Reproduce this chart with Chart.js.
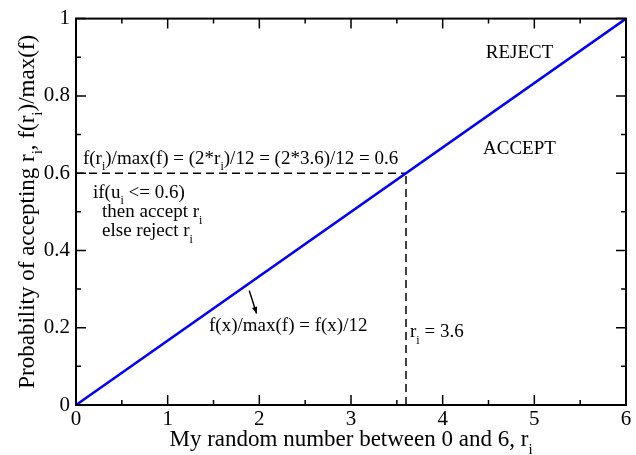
<!DOCTYPE html>
<html>
<head>
<meta charset="utf-8">
<script src="https://cdn.jsdelivr.net/npm/chart.js@4/dist/chart.umd.min.js"></script>
<style>
  html, body { margin: 0; padding: 0; background: #fff; }
  #wrap { width: 636px; height: 455px; }
</style>
</head>
<body>
<div id="wrap"><canvas id="acceptChart"></canvas></div>
<script>
// tick values
const xTicks = [0, 1, 2, 3, 4, 5, 6];
const yTicks = [0, 0.2, 0.4, 0.6, 0.8, 1];
const xMinor = [0.5, 1.5, 2.5, 3.5, 4.5, 5.5];
const yMinor = [0.1, 0.3, 0.5, 0.7, 0.9];

// f(x)/max(f) line
const lineX = [0, 6];
const lineY = [0, 1];

// dashed guide lines for r_i = 3.6
const hDashX = [0, 3.6];
const hDashY = [0.6, 0.6];
const vDashX = [3.6, 3.6];
const vDashY = [0, 0.6];

// little arrow pointing at the line
const arrowX = [1.89, 1.97];
const arrowY = [0.296, 0.237];

// annotations, x/y in data units, _{..} = subscript
const noteText = [
  'f(r_{i})/max(f) = (2*r_{i})/12 = (2*3.6)/12 = 0.6',
  'if(u_{i} <= 0.6)',
  'then accept r_{i}',
  'else reject r_{i}',
  'f(x)/max(f) = f(x)/12',
  'r_{i} = 3.6',
  'REJECT',
  'ACCEPT'
];
const noteX = [0.076, 0.185, 0.284, 0.284, 1.451, 3.644, 4.47, 4.44];
const noteY = [0.625, 0.537, 0.486, 0.437, 0.191, 0.175, 0.899, 0.649];

const xTitle = 'My random number between 0 and 6, r_{i}';
const yTitle = 'Probability of accepting r_{i}, f(r_{i})/max(f)';

const toPts = (xs, ys) => xs.map((x, i) => ({ x: x, y: ys[i] }));

const SERIF = '"Liberation Serif", "DejaVu Serif", serif';

// split "a_{i}b" into pieces
function parseSub(str) {
  const parts = [];
  const re = /_\{([^}]*)\}/g;
  let last = 0, m;
  while ((m = re.exec(str)) !== null) {
    if (m.index > last) parts.push({ t: str.slice(last, m.index), sub: false });
    parts.push({ t: m[1], sub: true });
    last = re.lastIndex;
  }
  if (last < str.length) parts.push({ t: str.slice(last), sub: false });
  return parts;
}

function richWidth(ctx, str, size) {
  let w = 0;
  parseSub(str).forEach(p => {
    ctx.font = (p.sub ? Math.round(size * 0.65) : size) + 'px ' + SERIF;
    w += ctx.measureText(p.t).width;
  });
  return w;
}

function drawRich(ctx, str, x, y, size) {
  let cx = x;
  ctx.textBaseline = 'alphabetic';
  ctx.textAlign = 'left';
  parseSub(str).forEach(p => {
    const s = p.sub ? Math.round(size * 0.65) : size;
    ctx.font = s + 'px ' + SERIF;
    ctx.fillText(p.t, cx, p.sub ? y + size * 0.35 : y);
    cx += ctx.measureText(p.t).width;
  });
}

const framePlugin = {
  id: 'frameAndNotes',
  afterDraw(chart) {
    const ctx = chart.ctx;
    const xs = chart.scales.x, ys = chart.scales.y;
    const a = chart.chartArea;
    ctx.save();
    ctx.strokeStyle = '#000';
    ctx.lineWidth = 1.5;

    // inward ticks on all four sides
    const tick = (vals, len) => {
      vals.forEach(v => {
        const px = xs.getPixelForValue(v);
        ctx.beginPath();
        ctx.moveTo(px, a.bottom); ctx.lineTo(px, a.bottom - len);
        ctx.moveTo(px, a.top); ctx.lineTo(px, a.top + len);
        ctx.stroke();
      });
    };
    const tickY = (vals, len) => {
      vals.forEach(v => {
        const py = ys.getPixelForValue(v);
        ctx.beginPath();
        ctx.moveTo(a.left, py); ctx.lineTo(a.left + len, py);
        ctx.moveTo(a.right, py); ctx.lineTo(a.right - len, py);
        ctx.stroke();
      });
    };
    tick(xTicks, 10); tick(xMinor, 5);
    tickY(yTicks, 10); tickY(yMinor, 5);

    // frame
    ctx.lineWidth = 2;
    ctx.strokeRect(a.left, a.top, a.right - a.left, a.bottom - a.top);

    // arrow
    const x0 = xs.getPixelForValue(arrowX[0]), y0 = ys.getPixelForValue(arrowY[0]);
    const x1 = xs.getPixelForValue(arrowX[1]), y1 = ys.getPixelForValue(arrowY[1]);
    ctx.lineWidth = 1.5;
    ctx.beginPath(); ctx.moveTo(x0, y0); ctx.lineTo(x1, y1); ctx.stroke();
    const ang = Math.atan2(y1 - y0, x1 - x0);
    ctx.fillStyle = '#000';
    ctx.beginPath();
    ctx.moveTo(x1, y1);
    ctx.lineTo(x1 - 7 * Math.cos(ang - 0.4), y1 - 7 * Math.sin(ang - 0.4));
    ctx.lineTo(x1 - 7 * Math.cos(ang + 0.4), y1 - 7 * Math.sin(ang + 0.4));
    ctx.closePath();
    ctx.fill();

    // notes
    noteText.forEach((t, i) => {
      drawRich(ctx, t, xs.getPixelForValue(noteX[i]), ys.getPixelForValue(noteY[i]), 19);
    });

    // axis titles
    const tw = richWidth(ctx, xTitle, 23);
    drawRich(ctx, xTitle, (a.left + a.right) / 2 - tw / 2, 446, 23);

    const yw = richWidth(ctx, yTitle, 23);
    ctx.translate(34, (a.top + a.bottom) / 2);
    ctx.rotate(-Math.PI / 2);
    drawRich(ctx, yTitle, -yw / 2, 0, 23);
    ctx.restore();
  }
};

const ctx = document.getElementById('acceptChart').getContext('2d');
new Chart(ctx, {
  type: 'scatter',
  data: {
    datasets: [
      {
        data: toPts(lineX, lineY),
        showLine: true,
        borderColor: '#0000ff',
        borderWidth: 2.5,
        pointRadius: 0
      },
      {
        data: toPts(hDashX, hDashY),
        showLine: true,
        borderColor: '#000',
        borderWidth: 1.5,
        borderDash: [8, 5],
        pointRadius: 0
      },
      {
        data: toPts(vDashX, vDashY),
        showLine: true,
        borderColor: '#000',
        borderWidth: 1.5,
        borderDash: [8, 5],
        pointRadius: 0
      }
    ]
  },
  options: {
    responsive: true,
    maintainAspectRatio: false,
    animation: false,
    layout: { padding: { left: 0, right: 10, top: 17, bottom: 0 } },
    plugins: {
      legend: { display: false },
      tooltip: { enabled: false }
    },
    scales: {
      x: {
        type: 'linear',
        min: 0,
        max: 6,
        afterFit: s => { s.height = 50; },
        afterBuildTicks: s => { s.ticks = xTicks.map(v => ({ value: v })); },
        grid: { display: false, drawTicks: false },
        border: { display: false },
        ticks: {
          padding: 2,
          color: '#000',
          font: { family: SERIF, size: 21 },
          maxRotation: 0
        }
      },
      y: {
        type: 'linear',
        min: 0,
        max: 1,
        afterFit: s => { s.width = 76; },
        afterBuildTicks: s => { s.ticks = yTicks.map(v => ({ value: v })); },
        grid: { display: false, drawTicks: false },
        border: { display: false },
        ticks: {
          padding: 6,
          color: '#000',
          font: { family: SERIF, size: 21 },
          callback: v => String(v)
        }
      }
    }
  },
  plugins: [framePlugin]
});
</script>
</body>
</html>
